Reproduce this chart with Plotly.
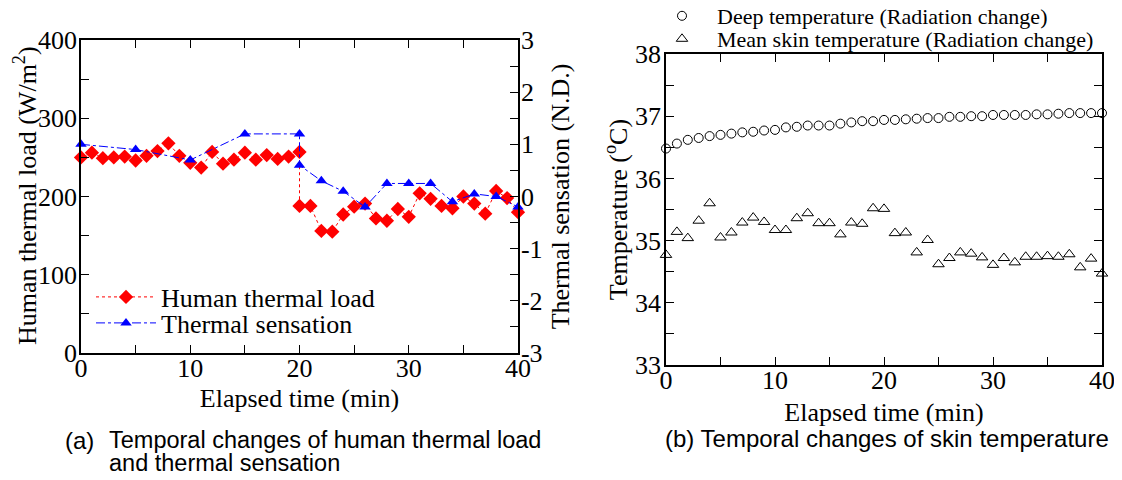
import plotly.graph_objects as go

# ---- Data ----
time_load = [0, 1, 2, 3, 4, 5, 6, 7, 8, 9, 10, 11, 12, 13, 14, 15, 16, 17, 18, 19, 20,
             20, 21, 22, 23, 24, 25, 26, 27, 28, 29, 30, 31, 32, 33, 34, 35, 36, 37, 38, 39, 40]
human_thermal_load = [250, 256, 249, 250, 251, 246, 252, 258, 268, 252, 243, 237, 257, 242, 247, 256,
                      247, 253, 248, 251, 257,
                      188, 188, 156, 155, 177, 187, 191, 172, 169, 184, 174, 204, 197, 188, 185,
                      200, 191, 178, 207, 198, 180]
time_sens = [0, 5, 10, 15, 20, 20, 22, 24, 26, 28, 30, 32, 34, 36, 38, 40]
thermal_sensation = [1.0, 0.9, 0.7, 1.2, 1.2, 0.6, 0.3, 0.1, -0.2, 0.25, 0.25, 0.25, -0.1, 0.05, 0.0, -0.2]

time_temp = list(range(0, 41))
deep_temp = [36.48, 36.56, 36.62, 36.65, 36.68, 36.70, 36.72, 36.74, 36.75, 36.77, 36.78,
             36.82, 36.83, 36.85, 36.85, 36.85, 36.88, 36.90, 36.92, 36.92, 36.94,
             36.94, 36.95, 36.96, 36.97, 36.97, 36.99, 36.99, 37.00, 37.00, 37.02,
             37.02, 37.02, 37.02, 37.03, 37.03, 37.04, 37.05, 37.05, 37.05, 37.05]
skin_temp = [34.77, 35.14, 35.04, 35.32, 35.60, 35.05, 35.13, 35.29, 35.37, 35.30, 35.17,
             35.17, 35.36, 35.44, 35.28, 35.28, 35.10, 35.29, 35.27, 35.52, 35.51,
             35.12, 35.13, 34.81, 35.01, 34.62, 34.72, 34.81, 34.79, 34.73, 34.61,
             34.72, 34.65, 34.74, 34.74, 34.75, 34.74, 34.78, 34.57, 34.71, 34.47]

sens_tick_vals = [-3, -2, -1, 0, 1, 2, 3]
sens_tick_text = ["-3", "-2", "-1", "0", "1", "2", "3"]

SERIF = "Liberation Serif, Times New Roman, serif"
SANS = "Liberation Sans, Arial, sans-serif"
W, H = 1122, 480
OFF = 8  # page body margin offset

def px_x(p):
    return (p - OFF) / W

def px_y(p):
    return 1 - (p - OFF) / H

fig = go.Figure()

fig.add_trace(go.Scatter(
    x=time_load, y=human_thermal_load, name="Human thermal load",
    mode="lines+markers", line=dict(color="red", dash="dot", width=1),
    marker=dict(symbol="diamond", size=11, color="red"), cliponaxis=False,
    xaxis="x", yaxis="y", legend="legend"))
fig.add_trace(go.Scatter(
    x=time_sens, y=thermal_sensation, name="Thermal sensation",
    mode="lines+markers", line=dict(color="blue", dash="dashdot", width=1),
    marker=dict(symbol="triangle-up", size=10, color="blue"), cliponaxis=False,
    xaxis="x", yaxis="y2", legend="legend3"))

fig.add_trace(go.Scatter(
    x=time_temp, y=deep_temp, name="Deep temperature (Radiation change)",
    mode="markers", marker=dict(symbol="circle-open", size=9, color="black", line=dict(width=1)),
    cliponaxis=False, xaxis="x2", yaxis="y3", legend="legend2"))
fig.add_trace(go.Scatter(
    x=time_temp, y=skin_temp, name="Mean skin temperature (Radiation change)",
    mode="markers", marker=dict(symbol="triangle-up-open", size=10, color="black", line=dict(width=1)),
    cliponaxis=False, xaxis="x2", yaxis="y3", legend="legend4"))

TICK = 26
TITLE = 26
axis_common = dict(
    showline=True, linecolor="black", linewidth=1.5, ticks="inside", ticklen=8,
    tickcolor="black", tickwidth=1, showgrid=False, zeroline=False, automargin=False,
    tickfont=dict(family=SERIF, size=TICK, color="black"),
)
minor_common = dict(ticks="inside", ticklen=8, tickcolor="black", tickwidth=1)

dom_x1 = [px_x(81), px_x(518)]
dom_y1 = [px_y(353), px_y(40)]
dom_x2 = [px_x(666), px_x(1102)]
dom_y2 = [px_y(365), px_y(54)]

leg_left = dict(xanchor="left", yanchor="middle", bgcolor="rgba(0,0,0,0)",
                font=dict(family=SERIF, size=26, color="black"), itemwidth=60)
leg_right = dict(xanchor="left", yanchor="middle", bgcolor="rgba(0,0,0,0)",
                 font=dict(family=SERIF, size=22, color="black"), itemwidth=60,
                 itemsizing="trace")

fig.update_layout(
    width=W, height=H, margin=dict(l=0, r=0, t=0, b=0, autoexpand=False),
    paper_bgcolor="white", plot_bgcolor="white",
    font=dict(family=SERIF, color="black"),
    xaxis=dict(**axis_common, domain=dom_x1, anchor="y", range=[0, 40], dtick=10,
               mirror="allticks", minor=dict(**minor_common, dtick=5), ticklabelstandoff=-9,
               title=dict(text="Elapsed time (min)", font=dict(size=TITLE), standoff=7)),
    yaxis=dict(**axis_common, domain=dom_y1, anchor="x", range=[0, 400], dtick=100,
               minor=dict(**minor_common, dtick=50), ticklabelstandoff=-3),
    yaxis2=dict(**axis_common, overlaying="y", side="right", anchor="x", range=[-3, 3],
                tickmode="array", tickvals=sens_tick_vals, ticktext=sens_tick_text,
                minor=dict(**minor_common, dtick=0.5), ticklabelstandoff=-4,
                title=dict(text="Thermal sensation (N.D.)", font=dict(size=TITLE), standoff=9)),
    xaxis2=dict(**axis_common, domain=dom_x2, anchor="y3", range=[0, 40], dtick=10,
                mirror="allticks", minor=dict(**minor_common, dtick=5), ticklabelstandoff=-9,
                title=dict(text="Elapsed time (min)", font=dict(size=TITLE), standoff=9)),
    yaxis3=dict(**axis_common, domain=dom_y2, anchor="x2", range=[33, 38], dtick=1,
                mirror="allticks", minor=dict(**minor_common, dtick=0.5), ticklabelstandoff=-2,
                title=dict(text="Temperature (<sup>o</sup>C)", font=dict(size=TITLE), standoff=0)),
    legend=dict(**leg_left, x=px_x(91), y=px_y(297)),
    legend3=dict(**leg_left, x=px_x(91), y=px_y(323)),
    legend2=dict(**leg_right, x=px_x(647), y=px_y(16)),
    legend4=dict(**leg_right, x=px_x(647), y=px_y(39)),
    showlegend=True,
    annotations=[
        dict(text="Human thermal load (W/m<sup>2</sup>)", x=px_x(26), y=px_y(196),
             xref="paper", yref="paper", xanchor="center", yanchor="middle",
             textangle=-90, showarrow=False,
             font=dict(family=SERIF, size=TITLE, color="black")),
        dict(text="(a)", x=px_x(63), y=px_y(440), xref="paper", yref="paper",
             xanchor="left", yanchor="middle", showarrow=False,
             font=dict(family=SANS, size=24, color="black")),
        dict(text="Temporal changes of human thermal load", x=px_x(107), y=px_y(440),
             xref="paper", yref="paper", xanchor="left", yanchor="middle", showarrow=False,
             font=dict(family=SANS, size=23.5, color="black")),
        dict(text="and thermal sensation", x=px_x(107), y=px_y(463),
             xref="paper", yref="paper", xanchor="left", yanchor="middle", showarrow=False,
             font=dict(family=SANS, size=23.5, color="black")),
        dict(text="(b) Temporal changes of skin temperature", x=px_x(663), y=px_y(438),
             xref="paper", yref="paper", xanchor="left", yanchor="middle", showarrow=False,
             font=dict(family=SANS, size=24, color="black")),
    ],
)

fig.write_html("out.html")
